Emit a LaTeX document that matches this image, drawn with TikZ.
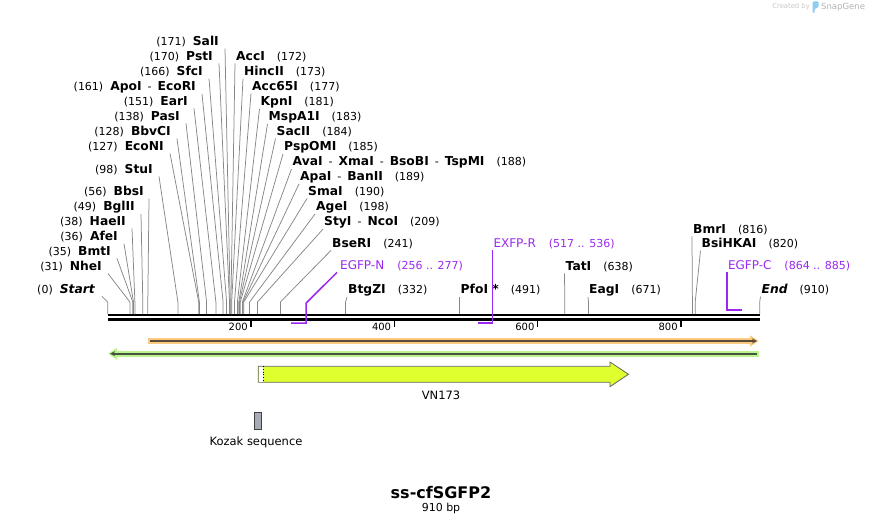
\documentclass[tikz,border=0pt]{standalone}
\usepackage{fontspec}
\setmainfont{DejaVu Sans}
\usepackage{tikz}
\usepackage{xcolor}
\usetikzlibrary{arrows.meta}

\definecolor{cutgray}{RGB}{135,135,135}
\definecolor{primer}{RGB}{155,40,240}
\definecolor{orangeband}{RGB}{250,202,128}
\definecolor{greenband}{RGB}{186,245,142}
\definecolor{orangeline}{RGB}{92,74,56}
\definecolor{greenline}{RGB}{72,84,66}
\definecolor{vnyellow}{RGB}{224,255,46}
\definecolor{kozak}{RGB}{168,173,181}
\definecolor{logoblue}{RGB}{140,205,240}

\newcommand{\enz}[1]{{\fontsize{12.3}{14}\selectfont\bfseries #1}}
\newcommand{\bp}[1]{{\fontsize{11}{13}\selectfont(#1)}}
\newcommand{\pr}[1]{{\fontsize{12}{14}\selectfont #1}}
\newcommand{\jn}{\hspace{6pt}-\hspace{6pt}}

\begin{document}
\begin{tikzpicture}[x=1pt, y=-1pt,
    lbl/.style={inner sep=1pt, font=\fontsize{11}{13}\selectfont},
    cut/.style={cutgray, line width=0.75pt},
    plbl/.style={inner sep=1pt, text=primer, font=\fontsize{11}{13}\selectfont},
    pline/.style={primer, line width=1.5pt}]

    \useasboundingbox (0,0) rectangle (870,524);

    \node[inner sep=0, anchor=east, text=black!22, font=\fontsize{6.8}{8}\selectfont] (credit) at (810,7) {Created by};
    \fill[logoblue, rounded corners=1pt] (812.5,1.5) -- (818.5,1.5) -- (818.5,7) -- (814.6,9) -- (814.6,13) -- (812.5,13) -- cycle;
    \node[inner sep=0, anchor=west, text=black!30, font=\fontsize{8.5}{10}\selectfont] (snapgene) at (821,7) {SnapGene};

    \draw[line width=2.6pt] (107.7,315) -- (759.7,315);
    \draw[line width=2.3pt] (107.7,319.5) -- (759.7,319.5);

    \draw[line width=1.6pt] (251,320) -- (251,327);
    \draw[line width=1.6pt] (394.3,320) -- (394.3,327);
    \draw[line width=1.6pt] (537.6,320) -- (537.6,327);
    \draw[line width=1.6pt] (680.9,320) -- (680.9,327);
    \node[lbl, anchor=east, font=\fontsize{10}{12}\selectfont] (t200) at (249,327) {200};
    \node[lbl, anchor=east, font=\fontsize{10}{12}\selectfont] (t400) at (392.3,327) {400};
    \node[lbl, anchor=east, font=\fontsize{10}{12}\selectfont] (t600) at (535.6,327) {600};
    \node[lbl, anchor=east, font=\fontsize{10}{12}\selectfont] (t800) at (678.9,327) {800};

    \coordinate (s0) at (107.7,314);
    \coordinate (s31) at (129.9,314);
    \coordinate (s35) at (132.8,314);
    \coordinate (s36) at (133.5,314);
    \coordinate (s38) at (134.9,314);
    \coordinate (s49) at (142.8,314);
    \coordinate (s56) at (147.8,314);
    \coordinate (s98) at (177.9,314);
    \coordinate (s127) at (198.7,314);
    \coordinate (s128) at (199.4,314);
    \coordinate (s138) at (206.6,314);
    \coordinate (s151) at (215.9,314);
    \coordinate (s161) at (223.1,314);
    \coordinate (s166) at (226.6,314);
    \coordinate (s170) at (229.5,314);
    \coordinate (s171) at (230.2,314);
    \coordinate (s172) at (230.9,314);
    \coordinate (s173) at (231.7,314);
    \coordinate (s177) at (234.5,314);
    \coordinate (s181) at (237.4,314);
    \coordinate (s183) at (238.8,314);
    \coordinate (s184) at (239.5,314);
    \coordinate (s185) at (240.3,314);
    \coordinate (s188) at (242.4,314);
    \coordinate (s189) at (243.1,314);
    \coordinate (s190) at (243.8,314);
    \coordinate (s198) at (249.6,314);
    \coordinate (s209) at (257.5,314);
    \coordinate (s241) at (280.4,314);
    \coordinate (s332) at (345.6,314);
    \coordinate (s491) at (459.5,314);
    \coordinate (s638) at (564.8,314);
    \coordinate (s671) at (588.5,314);
    \coordinate (s816) at (692.4,314);
    \coordinate (s820) at (695.2,314);
    \coordinate (s910) at (759.7,314);

    \node[lbl, anchor=east] (sali) at (220,42) {\bp{171}\hspace{7pt}\enz{SalI}};
    \node[lbl, anchor=east] (psti) at (214,57) {\bp{170}\hspace{7pt}\enz{PstI}};
    \node[lbl, anchor=east] (sfci) at (204,72) {\bp{166}\hspace{7pt}\enz{SfcI}};
    \node[lbl, anchor=east] (ecori) at (197,87) {\bp{161}\hspace{7pt}\enz{ApoI}\jn\enz{EcoRI}};
    \node[lbl, anchor=east] (eari) at (189,102) {\bp{151}\hspace{7pt}\enz{EarI}};
    \node[lbl, anchor=east] (pasi) at (181,117) {\bp{138}\hspace{7pt}\enz{PasI}};
    \node[lbl, anchor=east] (bbvci) at (172,132) {\bp{128}\hspace{7pt}\enz{BbvCI}};
    \node[lbl, anchor=east] (econi) at (165,147) {\bp{127}\hspace{7pt}\enz{EcoNI}};
    \node[lbl, anchor=east] (stui) at (154,170) {\bp{98}\hspace{7pt}\enz{StuI}};
    \node[lbl, anchor=east] (bbsi) at (145,192) {\bp{56}\hspace{7pt}\enz{BbsI}};
    \node[lbl, anchor=east] (bglii) at (136,207) {\bp{49}\hspace{7pt}\enz{BglII}};
    \node[lbl, anchor=east] (haeii) at (127,222) {\bp{38}\hspace{7pt}\enz{HaeII}};
    \node[lbl, anchor=east] (afei) at (119,237) {\bp{36}\hspace{7pt}\enz{AfeI}};
    \node[lbl, anchor=east] (bmti) at (112,252) {\bp{35}\hspace{7pt}\enz{BmtI}};
    \node[lbl, anchor=east] (nhei) at (103,267) {\bp{31}\hspace{7pt}\enz{NheI}};
    \node[lbl, anchor=east] (start) at (96,290) {\bp{0}\hspace{7pt}\enz{\itshape Start}};

    \node[lbl, anchor=west] (acci) at (235,57) {\enz{AccI}\hspace{12pt}\bp{172}};
    \node[lbl, anchor=west] (hincii) at (243,72) {\enz{HincII}\hspace{12pt}\bp{173}};
    \node[lbl, anchor=west] (acc65i) at (251,87) {\enz{Acc65I}\hspace{12pt}\bp{177}};
    \node[lbl, anchor=west] (kpni) at (259.5,102) {\enz{KpnI}\hspace{12pt}\bp{181}};
    \node[lbl, anchor=west] (mspa1i) at (267.5,117) {\enz{MspA1I}\hspace{12pt}\bp{183}};
    \node[lbl, anchor=west] (sacii) at (275.5,132) {\enz{SacII}\hspace{12pt}\bp{184}};
    \node[lbl, anchor=west] (pspomi) at (283,147) {\enz{PspOMI}\hspace{12pt}\bp{185}};
    \node[lbl, anchor=west] (avai) at (291.5,162) {\enz{AvaI}\jn\enz{XmaI}\jn\enz{BsoBI}\jn\enz{TspMI}\hspace{12pt}\bp{188}};
    \node[lbl, anchor=west] (apai) at (299,177) {\enz{ApaI}\jn\enz{BanII}\hspace{12pt}\bp{189}};
    \node[lbl, anchor=west] (smai) at (307,192) {\enz{SmaI}\hspace{12pt}\bp{190}};
    \node[lbl, anchor=west] (agei) at (315,207) {\enz{AgeI}\hspace{12pt}\bp{198}};
    \node[lbl, anchor=west] (styi) at (323,222) {\enz{StyI}\jn\enz{NcoI}\hspace{12pt}\bp{209}};
    \node[lbl, anchor=west] (bseri) at (331,244) {\enz{BseRI}\hspace{12pt}\bp{241}};
    \node[lbl, anchor=west] (btgzi) at (347,290) {\enz{BtgZI}\hspace{12pt}\bp{332}};
    \node[lbl, anchor=west] (pfoi) at (459.5,290) {\enz{PfoI *}\hspace{12pt}\bp{491}};
    \node[lbl, anchor=west] (tati) at (564.5,267) {\enz{TatI}\hspace{12pt}\bp{638}};
    \node[lbl, anchor=west] (eagi) at (588,290) {\enz{EagI}\hspace{12pt}\bp{671}};
    \node[lbl, anchor=west] (bmri) at (692,230) {\enz{BmrI}\hspace{12pt}\bp{816}};
    \node[lbl, anchor=west] (bsihkai) at (700.5,244) {\enz{BsiHKAI}\hspace{12pt}\bp{820}};
    \node[lbl, anchor=west] (fin) at (760.5,290) {\enz{\itshape End}\hspace{12pt}\bp{910}};

    \draw[cut] ([xshift=5pt]sali.south east) -- ([yshift=12pt]s171) -- (s171);
    \draw[cut] ([xshift=5pt]psti.south east) -- ([yshift=12pt]s170) -- (s170);
    \draw[cut] ([xshift=5pt]sfci.south east) -- ([yshift=12pt]s166) -- (s166);
    \draw[cut] ([xshift=5pt]ecori.south east) -- ([yshift=12pt]s161) -- (s161);
    \draw[cut] ([xshift=5pt]eari.south east) -- ([yshift=12pt]s151) -- (s151);
    \draw[cut] ([xshift=5pt]pasi.south east) -- ([yshift=12pt]s138) -- (s138);
    \draw[cut] ([xshift=5pt]bbvci.south east) -- ([yshift=12pt]s128) -- (s128);
    \draw[cut] ([xshift=5pt]econi.south east) -- ([yshift=12pt]s127) -- (s127);
    \draw[cut] ([xshift=5pt]stui.south east) -- ([yshift=12pt]s98) -- (s98);
    \draw[cut] ([xshift=4pt]bbsi.south east) -- ([yshift=12pt]s56) -- (s56);
    \draw[cut] ([xshift=5pt]bglii.south east) -- ([yshift=12pt]s49) -- (s49);
    \draw[cut] ([xshift=5pt]haeii.south east) -- ([yshift=12pt]s38) -- (s38);
    \draw[cut] ([xshift=5pt]afei.south east) -- ([yshift=12pt]s36) -- (s36);
    \draw[cut] ([xshift=5pt]bmti.south east) -- ([yshift=12pt]s35) -- (s35);
    \draw[cut] ([xshift=5pt]nhei.south east) -- ([yshift=12pt]s31) -- (s31);
    \draw[cut] ([xshift=6pt]start.south east) -- ([yshift=12pt]s0) -- (s0);

    \draw[cut] (acci.south west) -- ([yshift=12pt]s172) -- (s172);
    \draw[cut] (hincii.south west) -- ([yshift=12pt]s173) -- (s173);
    \draw[cut] (acc65i.south west) -- ([yshift=12pt]s177) -- (s177);
    \draw[cut] (kpni.south west) -- ([yshift=12pt]s181) -- (s181);
    \draw[cut] (mspa1i.south west) -- ([yshift=12pt]s183) -- (s183);
    \draw[cut] (sacii.south west) -- ([yshift=12pt]s184) -- (s184);
    \draw[cut] (pspomi.south west) -- ([yshift=12pt]s185) -- (s185);
    \draw[cut] (avai.south west) -- ([yshift=12pt]s188) -- (s188);
    \draw[cut] (apai.south west) -- ([yshift=12pt]s189) -- (s189);
    \draw[cut] (smai.south west) -- ([yshift=12pt]s190) -- (s190);
    \draw[cut] (agei.south west) -- ([yshift=12pt]s198) -- (s198);
    \draw[cut] (styi.south west) -- ([yshift=12pt]s209) -- (s209);
    \draw[cut] (bseri.south west) -- ([yshift=12pt]s241) -- (s241);
    \draw[cut] (btgzi.south west) -- ([yshift=12pt]s332) -- (s332);
    \draw[cut] (pfoi.south west) -- ([yshift=12pt]s491) -- (s491);
    \draw[cut] (tati.south west) -- ([yshift=12pt]s638) -- (s638);
    \draw[cut] (eagi.south west) -- ([yshift=12pt]s671) -- (s671);
    \draw[cut] (bmri.south west) -- ([yshift=12pt]s816) -- (s816);
    \draw[cut] (bsihkai.south west) -- ([yshift=12pt]s820) -- (s820);
    \draw[cut] (fin.south west) -- ([yshift=12pt]s910) -- (s910);

    \coordinate (n1) at (291.1,323);
    \coordinate (n2) at (306.2,323);
    \coordinate (r1) at (478.1,323);
    \coordinate (r2) at (492.3,323);
    \coordinate (c1) at (726.8,310);
    \coordinate (c2) at (741.8,310);
    \node[plbl, anchor=west] (egfpn) at (339,266) {\pr{EGFP-N}\hspace{13pt}(256 .. 277)};
    \node[plbl, anchor=west] (exfpr) at (492.3,244) {\pr{EXFP-R}\hspace{13pt}(517 .. 536)};
    \node[plbl, anchor=west] (egfpc) at (726.8,266) {\pr{EGFP-C}\hspace{13pt}(864 .. 885)};
    \draw[pline] ([xshift=-2pt]egfpn.south west) -- ([yshift=20pt]n2) -- (n2) -- (n1);
    \draw[pline] (exfpr.south west) -- (r2) -- (r1);
    \draw[pline] (egfpc.south west) -- (c1) -- (c2);

    \fill[orangeband] (148.3,338.3) rectangle (751,343.7);
    \fill[orangeband] (750,335.3) -- (758.5,341) -- (750,346.7) -- cycle;
    \draw[orangeline, line width=1.6pt, -{Stealth[length=5pt, width=5pt]}] (150,341) -- (757,341);

    \fill[greenband] (116,350.8) rectangle (758.7,356.6);
    \fill[greenband] (117,347.6) -- (108.3,353.7) -- (117,359.8) -- cycle;
    \draw[greenline, line width=1.6pt, -{Stealth[length=5pt, width=5pt]}] (757,353.7) -- (110,353.7);

    \draw[black!60, fill=vnyellow, line width=0.8pt] (258.3,366.3) -- (610,366.3) -- (610,362) -- (628.5,374.3) -- (610,386.6) -- (610,382.3) -- (258.3,382.3) -- cycle;
    \fill[white] (258.8,366.8) rectangle (263,381.8);
    \draw[dotted, line width=0.7pt] (263,366.3) -- (263,382.3);
    \node[lbl, font=\fontsize{11.5}{13}\selectfont] (vn173) at (441,395) {VN173};

    \draw[black!75, fill=kozak, line width=0.8pt] (254.3,412.7) rectangle (261.7,429.3);
    \node[lbl, font=\fontsize{11.5}{13}\selectfont] (kozak) at (256,442) {Kozak sequence};

    \node[inner sep=1pt, font=\fontsize{16}{18}\selectfont\bfseries] (title) at (441,493) {ss-cfSGFP2};
    \node[lbl] (size) at (441,508) {910 bp};
\end{tikzpicture}
\end{document}
